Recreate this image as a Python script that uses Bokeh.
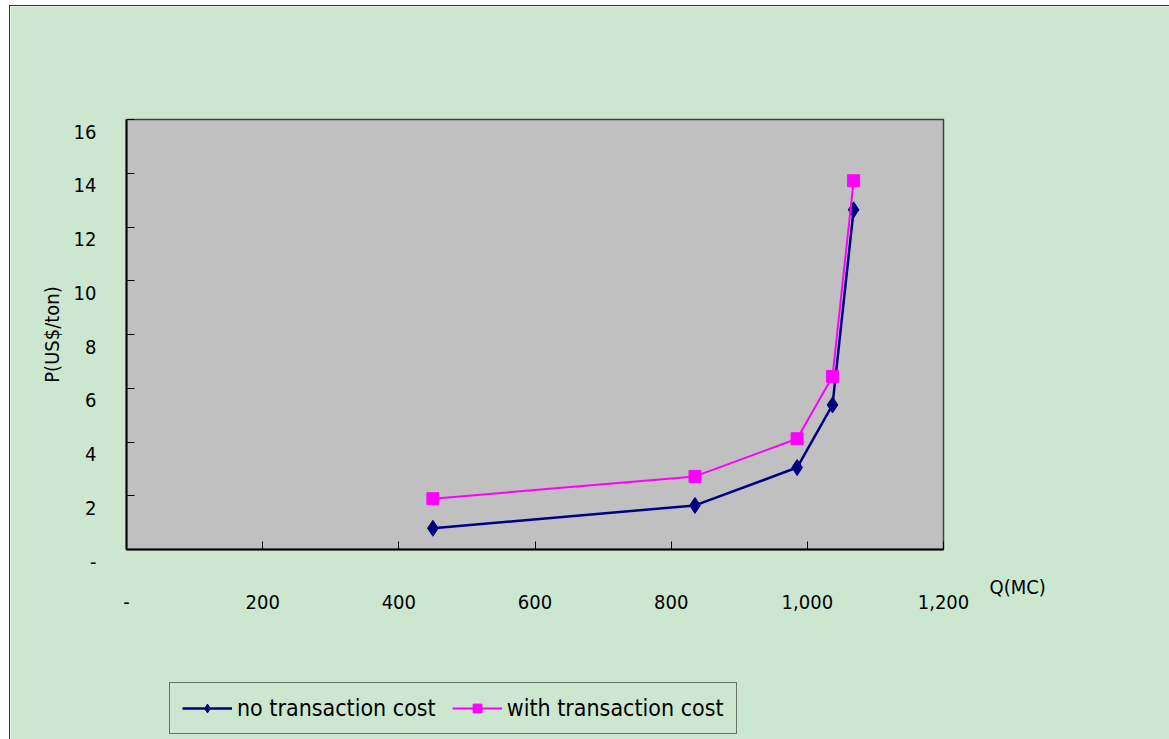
from bokeh.plotting import figure
from bokeh.models import (Range1d, FixedTicker, Label, LinearAxis, Legend, LegendItem)
from bokeh.embed import file_html
from bokeh.resources import INLINE

# Quantity (MC) and price (US$/ton) for the two supply curves
quantity = [450, 835, 985, 1037, 1068]
price_no_cost = [0.79, 1.64, 3.05, 5.38, 12.64]
price_with_cost = [1.89, 2.72, 4.12, 6.44, 13.72]

x_ticks = [0, 200, 400, 600, 800, 1000, 1200]
x_tick_labels = ["-", "200", "400", "600", "800", "1,000", "1,200"]
y_ticks = [0, 2, 4, 6, 8, 10, 12, 14, 16]
y_tick_labels = ["-", "2", "4", "6", "8", "10", "12", "14", "16"]

FONT = "DejaVu Sans Condensed, Liberation Sans"
BG = "#CCE7CF"
W, H = 1160, 734

# The frame fills the whole canvas; the grey plot area sits inside it with
# margins (in px) on each side, and the axes are pinned to its edges.
m_left, m_right, m_top, m_bottom = 116, 227, 113, 191
x0, x1 = x_ticks[0], x_ticks[-1]
y0, y1 = y_ticks[0], y_ticks[-1]
xpp = (x1 - x0) / (W - m_left - m_right)
ypp = (y1 - y0) / (H - m_top - m_bottom)

p = figure(width=W, height=H,
           x_range=Range1d(x0 - m_left * xpp, x1 + m_right * xpp),
           y_range=Range1d(y0 - m_bottom * ypp, y1 + m_top * ypp),
           output_backend="svg", toolbar_location=None,
           min_border=0, margin=(5, 0, 0, 9),
           styles={"border-top": "1px solid #333", "border-left": "1px solid #333"})
p.background_fill_color = BG
p.border_fill_color = BG
p.outline_line_color = None
p.xgrid.visible = False
p.ygrid.visible = False

# grey plot area
p.quad(left=[x0], right=[x1], bottom=[y0], top=[y1],
       fill_color="#C0C0C0", line_color="#404040", line_width=1.5)

# x axis: pinned at y=0, ticks inside, labels well below the line
xa = p.xaxis[0]
xa.fixed_location = y0
xa.bounds = (x0, x1)
xa.ticker = FixedTicker(ticks=x_ticks)
xa.major_label_overrides = {t: s for t, s in zip(x_ticks, x_tick_labels)}
xa.major_tick_in = 8
xa.major_tick_out = 0
xa.minor_tick_line_color = None
xa.axis_line_color = "black"
xa.axis_line_width = 2
xa.major_tick_line_color = "black"
xa.major_label_standoff = 45
xa.major_label_text_font = FONT
xa.major_label_text_font_size = "20px"
xa.major_label_text_color = "black"

# y axis: pinned at x=0, ticks inside; its tick labels come from a second
# axis whose range is shifted so each label hangs a little below its tick
ya = p.yaxis[0]
ya.fixed_location = x0
ya.bounds = (y0, y1)
ya.ticker = FixedTicker(ticks=y_ticks)
ya.major_tick_in = 8
ya.major_tick_out = 0
ya.minor_tick_line_color = None
ya.axis_line_color = "black"
ya.axis_line_width = 2
ya.major_tick_line_color = "black"
ya.major_label_standoff = 0
ya.major_label_text_font_size = "20px"
ya.major_label_text_color = None
ya.axis_label = "P(US$/ton)"
ya.axis_label_text_font = FONT
ya.axis_label_text_font_size = "20px"
ya.axis_label_text_font_style = "normal"
ya.axis_label_text_color = "black"
ya.axis_label_standoff = 63

label_shift = 12 * ypp
p.extra_y_ranges = {"ylab": Range1d(p.y_range.start + label_shift, p.y_range.end + label_shift)}
ylab_axis = LinearAxis(y_range_name="ylab", fixed_location=x0,
                       ticker=FixedTicker(ticks=y_ticks),
                       major_label_overrides={t: s for t, s in zip(y_ticks, y_tick_labels)},
                       axis_line_color=None, major_tick_line_color=None,
                       minor_tick_line_color=None, major_label_standoff=24,
                       major_label_text_font=FONT, major_label_text_font_size="20px",
                       major_label_text_color="black")
p.add_layout(ylab_axis, "left")

p.add_layout(Label(x=x1, y=y0, text="Q(MC)", x_offset=46, y_offset=-37,
                   text_align="left", text_baseline="middle", text_font=FONT,
                   text_font_size="20px", text_color="black"))

l1 = p.line(quantity, price_no_cost, line_color="#000080", line_width=2.5)
s1 = p.scatter(quantity, price_no_cost, marker="diamond", size=16,
               fill_color="#000080", line_color="#000080")
l2 = p.line(quantity, price_with_cost, line_color="#FF00FF", line_width=2)
s2 = p.scatter(quantity, price_with_cost, marker="square", size=12,
               fill_color="#FF00FF", line_color="#FF00FF")

legend = Legend(items=[LegendItem(label="no transaction cost", renderers=[l1, s1]),
                       LegendItem(label="with transaction cost", renderers=[l2, s2])],
                location=(159, 6), orientation="horizontal",
                label_text_font=FONT, label_text_font_size="23px", label_text_color="black",
                glyph_width=50, glyph_height=22, spacing=16, padding=12, margin=0,
                label_standoff=5, border_line_color="black", border_line_width=1,
                background_fill_alpha=0)
p.add_layout(legend)

open("out.html", "w").write(file_html(p, INLINE))
